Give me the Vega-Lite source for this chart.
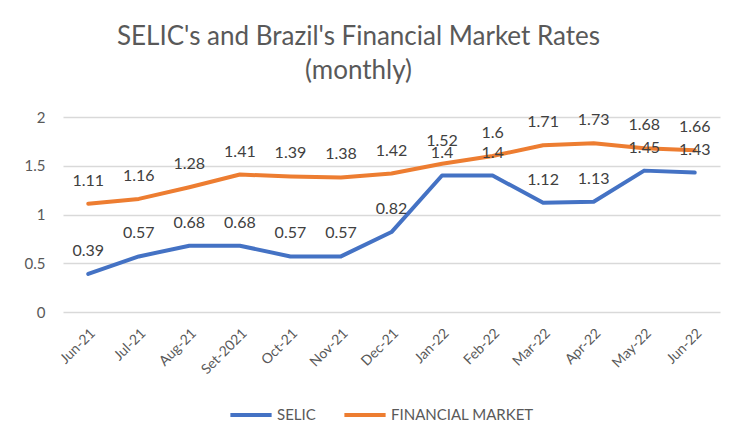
{
  "$schema": "https://vega.github.io/schema/vega-lite/v6.json",
  "width": 657,
  "height": 195,
  "autosize": {"type": "none"},
  "padding": {"left": 63, "top": 117, "right": 10, "bottom": 134},
  "background": "white",
  "config": {
    "view": {"stroke": null},
    "font": "Lato"
  },
  "title": {
    "text": ["SELIC's and Brazil's Financial Market Rates", "(monthly)"],
    "fontSize": 26,
    "fontWeight": "normal",
    "color": "#595959",
    "font": "Lato",
    "lineHeight": 34,
    "offset": 26,
    "dx": -33
  },
  "data": {
    "values": [
      {"month": "Jun-21", "series": "SELIC", "rate": 0.39},
      {"month": "Jul-21", "series": "SELIC", "rate": 0.57},
      {"month": "Aug-21", "series": "SELIC", "rate": 0.68},
      {"month": "Set-2021", "series": "SELIC", "rate": 0.68},
      {"month": "Oct-21", "series": "SELIC", "rate": 0.57},
      {"month": "Nov-21", "series": "SELIC", "rate": 0.57},
      {"month": "Dec-21", "series": "SELIC", "rate": 0.82},
      {"month": "Jan-22", "series": "SELIC", "rate": 1.4},
      {"month": "Feb-22", "series": "SELIC", "rate": 1.4},
      {"month": "Mar-22", "series": "SELIC", "rate": 1.12},
      {"month": "Apr-22", "series": "SELIC", "rate": 1.13},
      {"month": "May-22", "series": "SELIC", "rate": 1.45},
      {"month": "Jun-22", "series": "SELIC", "rate": 1.43},
      {"month": "Jun-21", "series": "FINANCIAL MARKET", "rate": 1.11},
      {"month": "Jul-21", "series": "FINANCIAL MARKET", "rate": 1.16},
      {"month": "Aug-21", "series": "FINANCIAL MARKET", "rate": 1.28},
      {"month": "Set-2021", "series": "FINANCIAL MARKET", "rate": 1.41},
      {"month": "Oct-21", "series": "FINANCIAL MARKET", "rate": 1.39},
      {"month": "Nov-21", "series": "FINANCIAL MARKET", "rate": 1.38},
      {"month": "Dec-21", "series": "FINANCIAL MARKET", "rate": 1.42},
      {"month": "Jan-22", "series": "FINANCIAL MARKET", "rate": 1.52},
      {"month": "Feb-22", "series": "FINANCIAL MARKET", "rate": 1.6},
      {"month": "Mar-22", "series": "FINANCIAL MARKET", "rate": 1.71},
      {"month": "Apr-22", "series": "FINANCIAL MARKET", "rate": 1.73},
      {"month": "May-22", "series": "FINANCIAL MARKET", "rate": 1.68},
      {"month": "Jun-22", "series": "FINANCIAL MARKET", "rate": 1.66}
    ]
  },
  "encoding": {
    "x": {
      "field": "month",
      "type": "ordinal",
      "sort": null,
      "scale": {"type": "band", "paddingInner": 0, "paddingOuter": 0},
      "axis": {
        "title": null,
        "labelAngle": -45,
        "labelFontSize": 14,
        "labelColor": "#595959",
        "labelFont": "Lato",
        "ticks": false,
        "domain": false,
        "grid": false,
        "labelPadding": 14
      }
    },
    "y": {
      "field": "rate",
      "type": "quantitative",
      "scale": {"domain": [0, 2]},
      "axis": {
        "title": null,
        "values": [0, 0.5, 1, 1.5, 2],
        "format": "~g",
        "labelFontSize": 15,
        "labelColor": "#595959",
        "labelFont": "Lato",
        "ticks": false,
        "domain": false,
        "gridColor": "#d9d9d9",
        "gridWidth": 1.5,
        "labelPadding": 18
      }
    },
    "color": {
      "field": "series",
      "type": "nominal",
      "sort": ["SELIC", "FINANCIAL MARKET"],
      "scale": {"domain": ["SELIC", "FINANCIAL MARKET"], "range": ["#4472C4", "#ED7D31"]},
      "legend": {
        "title": null,
        "orient": "none",
        "direction": "horizontal",
        "legendX": 165,
        "legendY": 275,
        "symbolType": "stroke",
        "symbolSize": 1700,
        "symbolStrokeWidth": 4,
        "labelFontSize": 15,
        "labelColor": "#595959",
        "labelFont": "Lato",
        "labelOffset": 3,
        "columnPadding": 20
      }
    }
  },
  "layer": [
    {
      "mark": {"type": "line", "strokeWidth": 4, "interpolate": "linear", "strokeJoin": "round", "strokeCap": "round"}
    },
    {
      "mark": {"type": "text", "dy": -23, "fontSize": 16, "color": "#404040", "font": "Lato"},
      "encoding": {
        "text": {"field": "rate", "type": "quantitative"},
        "color": {"value": "#404040"}
      }
    }
  ]
}
